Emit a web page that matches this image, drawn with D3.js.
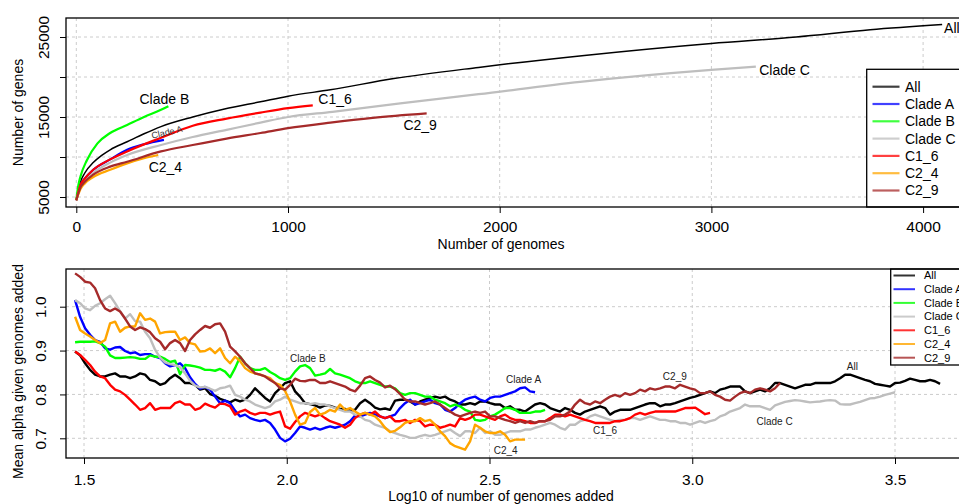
<!DOCTYPE html>
<html>
<head>
<meta charset="utf-8">
<script src="https://cdn.jsdelivr.net/npm/d3@7"></script>
<style>
body { margin: 0; background: #fff; }
svg { display: block; font-family: "Liberation Sans", Arial, Helvetica, sans-serif; }
.grid line { stroke: #cccccc; stroke-width: 1; stroke-dasharray: 3,3; }
</style>
</head>
<body>
<svg width="959" height="504"></svg>
<script>
"use strict";

// ---- top panel: accumulation curves [genomes, genes] ----
var allTop = [[0,4600],[20,6900],[40,8000],[80,9300],[120,10200],[160,10900],[240,11900],[320,12900],[400,13800],[550,15000],[700,16000],[870,16900],[1000,17600],[1200,18400],[1500,19800],[1900,21200],[2400,22700],[3000,24200],[3400,25000],[3750,25900],[4090,26550]];
var cladeATop = [[0,4600],[20,6500],[40,7300],[80,8400],[160,9700],[240,10900],[320,11600],[414,12150]];
var cladeBTop = [[0,4600],[10,6500],[20,7600],[50,9600],[100,11700],[160,13000],[240,14000],[320,15000],[400,15900],[435,16350]];
var cladeCTop = [[0,4600],[20,6300],[40,7000],[80,8000],[160,9300],[240,10250],[400,11500],[550,12500],[710,13400],[870,14300],[1000,15000],[1210,15650],[1530,16700],[1900,17850],[2380,19400],[3000,20900],[3210,21300]];
var c16Top = [[0,4600],[20,6500],[40,7300],[80,8400],[160,9700],[240,10700],[400,12400],[550,13900],[710,14800],[870,15550],[1000,16100],[1117,16450]];
var c24Top = [[0,4600],[20,6000],[40,6700],[80,7500],[160,8400],[240,9200],[320,9850],[387,10250]];
var c29Top = [[0,4600],[20,6200],[40,6900],[80,7800],[160,8800],[240,9400],[400,10700],[550,11500],[710,12300],[870,13000],[1000,13600],[1200,14300],[1400,14900],[1655,15450]];

var xTicksTop = [0, 1000, 2000, 3000, 4000];
var yTicksTop = [5000, 10000, 15000, 20000, 25000];
var yLabelsTop = [5000, 15000, 25000];

// ---- bottom panel: running mean alpha, sampled on a log10 grid ----
var gridStart = 1.478, gridStep = 0.01233;

var allAlpha = [0.898,0.889,0.871,0.856,0.845,0.841,0.841,0.845,0.848,0.841,0.841,0.837,0.841,0.848,0.845,0.833,0.830,0.822,0.826,0.837,0.845,0.837,0.826,0.826,0.822,0.811,0.814,0.801,0.797,0.790,0.786,0.782,
  0.788,0.784,0.788,0.799,0.814,0.803,0.792,0.784,0.803,0.814,0.826,0.830,0.807,0.795,0.780,0.778,0.775,0.770,0.775,0.774,0.770,0.767,0.767,0.763,0.765,0.780,0.788,0.780,0.770,0.766,0.768,0.765,0.786,0.788,
  0.788,0.784,0.777,0.784,0.788,0.792,0.795,0.792,0.795,0.788,0.784,0.777,0.777,0.780,0.777,0.784,0.784,0.780,0.777,0.777,0.769,0.773,0.765,0.765,0.761,0.769,0.777,0.780,0.777,0.769,0.765,0.761,0.769,0.765,
  0.758,0.754,0.761,0.765,0.769,0.773,0.769,0.754,0.761,0.765,0.765,0.765,0.769,0.773,0.777,0.780,0.780,0.773,0.777,0.777,0.780,0.784,0.788,0.792,0.795,0.799,0.803,0.807,0.803,0.811,0.814,0.818,0.818,0.818,
  0.807,0.803,0.807,0.811,0.807,0.814,0.826,0.826,0.822,0.818,0.814,0.818,0.822,0.822,0.826,0.826,0.826,0.826,0.830,0.837,0.845,0.845,0.841,0.837,0.833,0.830,0.824,0.822,0.820,0.818,0.826,0.827,0.831,0.836,0.833,0.830,0.830,0.833,0.830,0.824];
var cladeAAlpha = [1.015,0.977,0.951,0.936,0.924,0.920,0.905,0.902,0.907,0.908,0.899,0.894,0.896,0.890,0.892,0.892,0.886,0.883,0.871,0.864,0.867,0.871,0.860,0.839,0.824,0.813,0.817,0.811,0.795,0.780,0.786,0.780,
  0.763,0.750,0.754,0.746,0.742,0.739,0.742,0.735,0.720,0.701,0.693,0.699,0.712,0.727,0.724,0.720,0.724,0.720,0.724,0.727,0.724,0.727,0.731,0.739,0.752,0.750,0.754,0.758,0.754,0.750,0.746,0.750,0.754,0.769,
  0.780,0.788,0.777,0.780,0.784,0.788,0.780,0.777,0.765,0.761,0.769,0.780,0.788,0.792,0.795,0.788,0.784,0.792,0.795,0.795,0.799,0.803,0.807,0.814,0.816,0.807,0.805];
var cladeBAlpha = [0.919,0.920,0.920,0.920,0.921,0.917,0.909,0.889,0.883,0.883,0.884,0.885,0.884,0.881,0.881,0.889,0.886,0.886,0.881,0.874,0.877,0.846,0.867,0.866,0.864,0.861,0.856,0.856,0.854,0.858,0.852,0.839,
  0.860,0.886,0.871,0.860,0.856,0.856,0.860,0.851,0.845,0.837,0.833,0.837,0.852,0.864,0.867,0.860,0.843,0.845,0.848,0.858,0.848,0.845,0.841,0.837,0.830,0.826,0.826,0.830,0.826,0.822,0.818,0.818,0.814,0.803,
  0.799,0.803,0.803,0.799,0.795,0.795,0.788,0.784,0.780,0.773,0.777,0.773,0.765,0.761,0.742,0.740,0.742,0.750,0.754,0.761,0.769,0.769,0.765,0.758,0.758,0.758,0.761,0.761,0.765];
var cladeCAlpha = [1.015,1.008,0.996,0.992,1.002,1.008,1.017,1.025,1.008,0.990,0.973,0.983,0.967,0.966,0.943,0.928,0.902,0.884,0.873,0.869,0.867,0.862,0.848,0.831,0.820,0.816,0.817,0.813,0.808,0.814,0.816,0.820,
  0.799,0.795,0.788,0.784,0.777,0.773,0.769,0.773,0.784,0.788,0.795,0.788,0.784,0.780,0.780,0.778,0.780,0.777,0.777,0.773,0.769,0.765,0.761,0.761,0.754,0.750,0.742,0.739,0.731,0.727,0.724,0.716,0.712,0.708,
  0.705,0.701,0.701,0.705,0.708,0.705,0.708,0.712,0.716,0.720,0.712,0.705,0.716,0.716,0.712,0.724,0.712,0.716,0.708,0.708,0.712,0.716,0.716,0.716,0.720,0.720,0.724,0.727,0.731,0.735,0.731,0.724,0.720,0.731,
  0.731,0.739,0.742,0.750,0.754,0.750,0.746,0.742,0.739,0.742,0.742,0.746,0.746,0.742,0.746,0.750,0.746,0.742,0.742,0.739,0.739,0.735,0.735,0.731,0.735,0.739,0.735,0.739,0.742,0.750,0.754,0.761,0.765,0.769,
  0.777,0.773,0.773,0.773,0.769,0.765,0.775,0.779,0.783,0.785,0.787,0.786,0.784,0.782,0.783,0.784,0.786,0.787,0.786,0.778,0.777,0.777,0.780,0.783,0.787,0.791,0.792,0.795,0.799,0.802,0.805];
var c16Alpha = [0.898,0.890,0.879,0.867,0.852,0.841,0.837,0.822,0.811,0.807,0.799,0.788,0.777,0.765,0.769,0.780,0.765,0.769,0.769,0.769,0.780,0.784,0.777,0.777,0.765,0.769,0.779,0.774,0.770,0.779,0.778,0.773,
  0.754,0.761,0.765,0.758,0.754,0.758,0.758,0.754,0.758,0.761,0.727,0.722,0.737,0.750,0.758,0.754,0.750,0.754,0.746,0.739,0.735,0.731,0.724,0.731,0.746,0.754,0.758,0.754,0.761,0.750,0.746,0.750,0.739,0.739,
  0.742,0.735,0.742,0.739,0.727,0.731,0.731,0.724,0.727,0.731,0.727,0.746,0.742,0.746,0.754,0.754,0.750,0.746,0.742,0.750,0.754,0.746,0.742,0.742,0.739,0.735,0.735,0.739,0.739,0.746,0.754,0.754,0.750,0.754,
  0.750,0.746,0.742,0.739,0.735,0.735,0.735,0.735,0.739,0.739,0.742,0.746,0.754,0.758,0.754,0.758,0.761,0.761,0.761,0.761,0.761,0.765,0.769,0.769,0.770,0.763,0.755,0.758];
var c24Alpha = [0.977,0.947,0.939,0.932,0.924,0.917,0.924,0.962,0.966,0.943,0.952,0.955,0.955,0.985,0.970,0.973,0.966,0.939,0.942,0.943,0.943,0.924,0.930,0.917,0.914,0.898,0.899,0.905,0.894,0.905,0.883,0.871,
  0.886,0.876,0.860,0.852,0.848,0.845,0.841,0.837,0.826,0.822,0.808,0.784,0.754,0.731,0.735,0.760,0.769,0.754,0.758,0.765,0.761,0.777,0.765,0.769,0.761,0.754,0.758,0.754,0.750,0.739,0.724,0.714,0.717,0.725,
  0.735,0.739,0.739,0.746,0.739,0.742,0.731,0.716,0.705,0.689,0.682,0.678,0.674,0.693,0.731,0.724,0.716,0.712,0.712,0.716,0.708,0.693,0.697,0.697,0.697];
var c29Alpha = [1.076,1.068,1.057,1.055,1.042,1.015,0.996,0.990,0.996,0.989,0.973,0.955,0.947,0.953,0.949,0.942,0.928,0.920,0.903,0.917,0.924,0.917,0.899,0.924,0.937,0.947,0.956,0.952,0.960,0.962,0.943,0.909,
  0.898,0.886,0.871,0.860,0.848,0.845,0.841,0.833,0.826,0.814,0.811,0.822,0.836,0.831,0.830,0.833,0.833,0.826,0.826,0.830,0.826,0.822,0.818,0.811,0.807,0.820,0.837,0.841,0.833,0.827,0.816,0.820,0.812,0.801,
  0.788,0.784,0.784,0.780,0.777,0.780,0.784,0.777,0.769,0.761,0.754,0.750,0.754,0.758,0.761,0.758,0.761,0.750,0.750,0.746,0.742,0.739,0.735,0.739,0.735,0.739,0.735,0.739,0.739,0.742,0.750,0.750,0.754,0.761,
  0.777,0.788,0.780,0.777,0.784,0.780,0.788,0.795,0.799,0.795,0.803,0.799,0.803,0.811,0.807,0.814,0.811,0.814,0.818,0.818,0.814,0.822,0.818,0.814,0.811,0.803,0.803,0.807,0.799,0.795,0.788,0.786,0.795,0.803,
  0.807,0.803,0.811,0.814,0.811,0.807,0.814,0.826];

var xTicksBot = [1.5, 2.0, 2.5, 3.0, 3.5];
var yTicksBot = [0.7, 0.8, 0.9, 1.0];

var series = [
  { name: 'All',     color: '#000000', top: allTop,    alpha: allAlpha },
  { name: 'Clade A', color: '#0000FF', top: cladeATop, alpha: cladeAAlpha },
  { name: 'Clade B', color: '#00FF00', top: cladeBTop, alpha: cladeBAlpha },
  { name: 'Clade C', color: '#BEBEBE', top: cladeCTop, alpha: cladeCAlpha },
  { name: 'C1_6',    color: '#FF0000', top: c16Top,    alpha: c16Alpha },
  { name: 'C2_4',    color: '#FFA500', top: c24Top,    alpha: c24Alpha },
  { name: 'C2_9',    color: '#A52A2A', top: c29Top,    alpha: c29Alpha }
];

const svg = d3.select('svg');
const font = '"Liberation Sans", Arial, Helvetica, sans-serif';

// ================= top panel =================
const topBox = { left: 66, right: 995, top: 18, bottom: 207 };
const xTop = d3.scaleLinear().domain([0, 4000]).range([76.3, 923.1]);
const yTop = d3.scaleLinear().domain([5000, 25000]).range([197, 37]);

const topG = svg.append('g');

topG.append('g').attr('class', 'grid')
  .selectAll('line').data(xTicksTop).enter().append('line')
  .attr('x1', d => xTop(d)).attr('x2', d => xTop(d))
  .attr('y1', topBox.top).attr('y2', topBox.bottom);
topG.append('g').attr('class', 'grid')
  .selectAll('line').data(yTicksTop).enter().append('line')
  .attr('x1', topBox.left).attr('x2', topBox.right)
  .attr('y1', d => yTop(d)).attr('y2', d => yTop(d));

const lineTop = d3.line()
  .x(d => xTop(d[0]))
  .y(d => yTop(d[1]))
  .curve(d3.curveMonotoneX);

topG.selectAll('path.curve').data(series).enter().append('path')
  .attr('class', 'curve')
  .attr('d', s => lineTop(s.top))
  .attr('fill', 'none')
  .attr('stroke', s => s.color)
  .attr('stroke-width', s => s.name === 'All' ? 1.5 : 2.2)
  .attr('stroke-linejoin', 'round');

// x axis
topG.append('g')
  .attr('transform', `translate(0, ${topBox.bottom})`)
  .call(d3.axisBottom(xTop).tickValues(xTicksTop).tickSize(6).tickPadding(8).tickFormat(d3.format('d')))
  .call(g => g.select('.domain').remove())
  .call(g => g.selectAll('text').attr('font-size', 15.5).attr('font-family', font).attr('fill', '#000'))
  .call(g => g.selectAll('line').attr('stroke', '#000'));

// y axis, labels rotated like base R
topG.append('g')
  .attr('transform', `translate(${topBox.left}, 0)`)
  .call(d3.axisLeft(yTop).tickValues(yTicksTop).tickSize(6)
    .tickFormat(d => yLabelsTop.indexOf(d) >= 0 ? d : ''))
  .call(g => g.select('.domain').remove())
  .call(g => g.selectAll('line').attr('stroke', '#000'))
  .call(g => g.selectAll('text')
    .attr('font-size', 15.5).attr('font-family', font).attr('fill', '#000')
    .attr('x', 0).attr('y', -17.5).attr('dy', null)
    .attr('text-anchor', 'middle').attr('transform', 'rotate(-90)'));

topG.append('text')
  .attr('x', 501).attr('y', 248.5)
  .attr('text-anchor', 'middle').attr('font-size', 14)
  .text('Number of genomes');
topG.append('text')
  .attr('transform', 'translate(23, 112.5) rotate(-90)')
  .attr('text-anchor', 'middle').attr('font-size', 14)
  .text('Number of genes');

// curve labels
var topLabels = [
  { t: 'All',     x: 4099, y: 26090, a: 'start',  s: 14 },
  { t: 'Clade C', x: 3226, y: 20875, a: 'start',  s: 14 },
  { t: 'Clade B', x: 416,  y: 17290, a: 'middle', s: 14 },
  { t: 'C1_6',    x: 1143, y: 17210, a: 'start',  s: 14 },
  { t: 'C2_9',    x: 1545, y: 14000, a: 'start',  s: 14 },
  { t: 'C2_4',    x: 421,  y: 8790,  a: 'middle', s: 14 }
];
topG.selectAll('text.lab').data(topLabels).enter().append('text')
  .attr('class', 'lab')
  .attr('x', d => xTop(d.x)).attr('y', d => yTop(d.y))
  .attr('dy', '0.35em')
  .attr('text-anchor', d => d.a).attr('font-size', d => d.s)
  .text(d => d.t);
topG.append('text')
  .attr('transform', `translate(${xTop(428)}, ${yTop(13100)}) rotate(-13)`)
  .attr('dy', '0.35em').attr('text-anchor', 'middle')
  .attr('font-size', 9).attr('fill', '#333')
  .text('Clade A');

// legend
const legTop = topG.append('g');
legTop.append('rect')
  .attr('x', 866.7).attr('y', 69.3).attr('width', 130).attr('height', topBox.bottom - 69.3)
  .attr('fill', '#fff').attr('stroke', '#000').attr('stroke-width', 1.3);
const legTopItems = legTop.selectAll('g.it').data(series).enter().append('g')
  .attr('class', 'it')
  .attr('transform', (d, i) => `translate(0, ${86.7 + i * 17.3})`);
legTopItems.append('line')
  .attr('x1', 872.5).attr('x2', 899.5)
  .attr('stroke', d => d.color).attr('stroke-width', 2.2).attr('stroke-opacity', 0.75);
legTopItems.append('text')
  .attr('x', 905).attr('dy', '0.35em').attr('font-size', 14)
  .text(d => d.name);

topG.append('rect')
  .attr('x', topBox.left).attr('y', topBox.top)
  .attr('width', topBox.right - topBox.left).attr('height', topBox.bottom - topBox.top)
  .attr('fill', 'none').attr('stroke', '#000').attr('stroke-width', 1.3);

// ================= bottom panel =================
const botBox = { left: 66, right: 995, top: 269, bottom: 458 };
const xBot = d3.scaleLinear().domain([1.5, 3.5]).range([84, 895]);
const yBot = d3.scaleLinear().domain([0.7, 1.0]).range([438.3, 306.7]);

const botG = svg.append('g');

botG.append('g').attr('class', 'grid')
  .selectAll('line').data(xTicksBot).enter().append('line')
  .attr('x1', d => xBot(d)).attr('x2', d => xBot(d))
  .attr('y1', botBox.top).attr('y2', botBox.bottom);
botG.append('g').attr('class', 'grid')
  .selectAll('line').data(yTicksBot).enter().append('line')
  .attr('x1', botBox.left).attr('x2', botBox.right)
  .attr('y1', d => yBot(d)).attr('y2', d => yBot(d));

const lineBot = d3.line()
  .x((d, i) => xBot(gridStart + i * gridStep))
  .y(d => yBot(d));

botG.selectAll('path.run').data(series).enter().append('path')
  .attr('class', 'run')
  .attr('d', s => lineBot(s.alpha))
  .attr('fill', 'none')
  .attr('stroke', s => s.color)
  .attr('stroke-width', 2.4)
  .attr('stroke-linejoin', 'round');

botG.append('g')
  .attr('transform', `translate(0, ${botBox.bottom})`)
  .call(d3.axisBottom(xBot).tickValues(xTicksBot).tickSize(6).tickPadding(10).tickFormat(d3.format('.1f')))
  .call(g => g.select('.domain').remove())
  .call(g => g.selectAll('text').attr('font-size', 15.5).attr('font-family', font).attr('fill', '#000'))
  .call(g => g.selectAll('line').attr('stroke', '#000'));

botG.append('g')
  .attr('transform', `translate(${botBox.left}, 0)`)
  .call(d3.axisLeft(yBot).tickValues(yTicksBot).tickSize(6).tickFormat(d3.format('.1f')))
  .call(g => g.select('.domain').remove())
  .call(g => g.selectAll('line').attr('stroke', '#000'))
  .call(g => g.selectAll('text')
    .attr('font-size', 15.5).attr('font-family', font).attr('fill', '#000')
    .attr('x', 0).attr('y', -20).attr('dy', null)
    .attr('text-anchor', 'middle').attr('transform', 'rotate(-90)'));

botG.append('text')
  .attr('x', 501).attr('y', 501)
  .attr('text-anchor', 'middle').attr('font-size', 14)
  .text('Log10 of number of genomes added');
botG.append('text')
  .attr('transform', 'translate(23, 371.5) rotate(-90)')
  .attr('text-anchor', 'middle').attr('font-size', 14)
  .text('Mean alpha given genomes added');

var botLabels = [
  { t: 'Clade B', x: 2.052, y: 0.883 },
  { t: 'Clade A', x: 2.584, y: 0.835 },
  { t: 'C2_9',    x: 2.957, y: 0.842 },
  { t: 'All',     x: 3.395, y: 0.863 },
  { t: 'Clade C', x: 3.203, y: 0.739 },
  { t: 'C1_6',    x: 2.785, y: 0.717 },
  { t: 'C2_4',    x: 2.540, y: 0.673 }
];
botG.selectAll('text.lab').data(botLabels).enter().append('text')
  .attr('class', 'lab')
  .attr('x', d => xBot(d.x)).attr('y', d => yBot(d.y))
  .attr('dy', '0.35em').attr('text-anchor', 'middle')
  .attr('font-size', 10).attr('fill', '#222')
  .text(d => d.t);

const legBot = botG.append('g');
legBot.append('rect')
  .attr('x', 890.7).attr('y', botBox.top).attr('width', 100).attr('height', 365 - botBox.top)
  .attr('fill', '#fff').attr('stroke', '#000').attr('stroke-width', 1.3);
const legBotItems = legBot.selectAll('g.it').data(series).enter().append('g')
  .attr('class', 'it')
  .attr('transform', (d, i) => `translate(0, ${275.5 + i * 13.7})`);
legBotItems.append('line')
  .attr('x1', 893.5).attr('x2', 915)
  .attr('stroke', d => d.color).attr('stroke-width', 2).attr('stroke-opacity', 0.8);
legBotItems.append('text')
  .attr('x', 924).attr('dy', '0.35em').attr('font-size', 11)
  .text(d => d.name);

botG.append('rect')
  .attr('x', botBox.left).attr('y', botBox.top)
  .attr('width', botBox.right - botBox.left).attr('height', botBox.bottom - botBox.top)
  .attr('fill', 'none').attr('stroke', '#000').attr('stroke-width', 1.3);
</script>
</body>
</html>
